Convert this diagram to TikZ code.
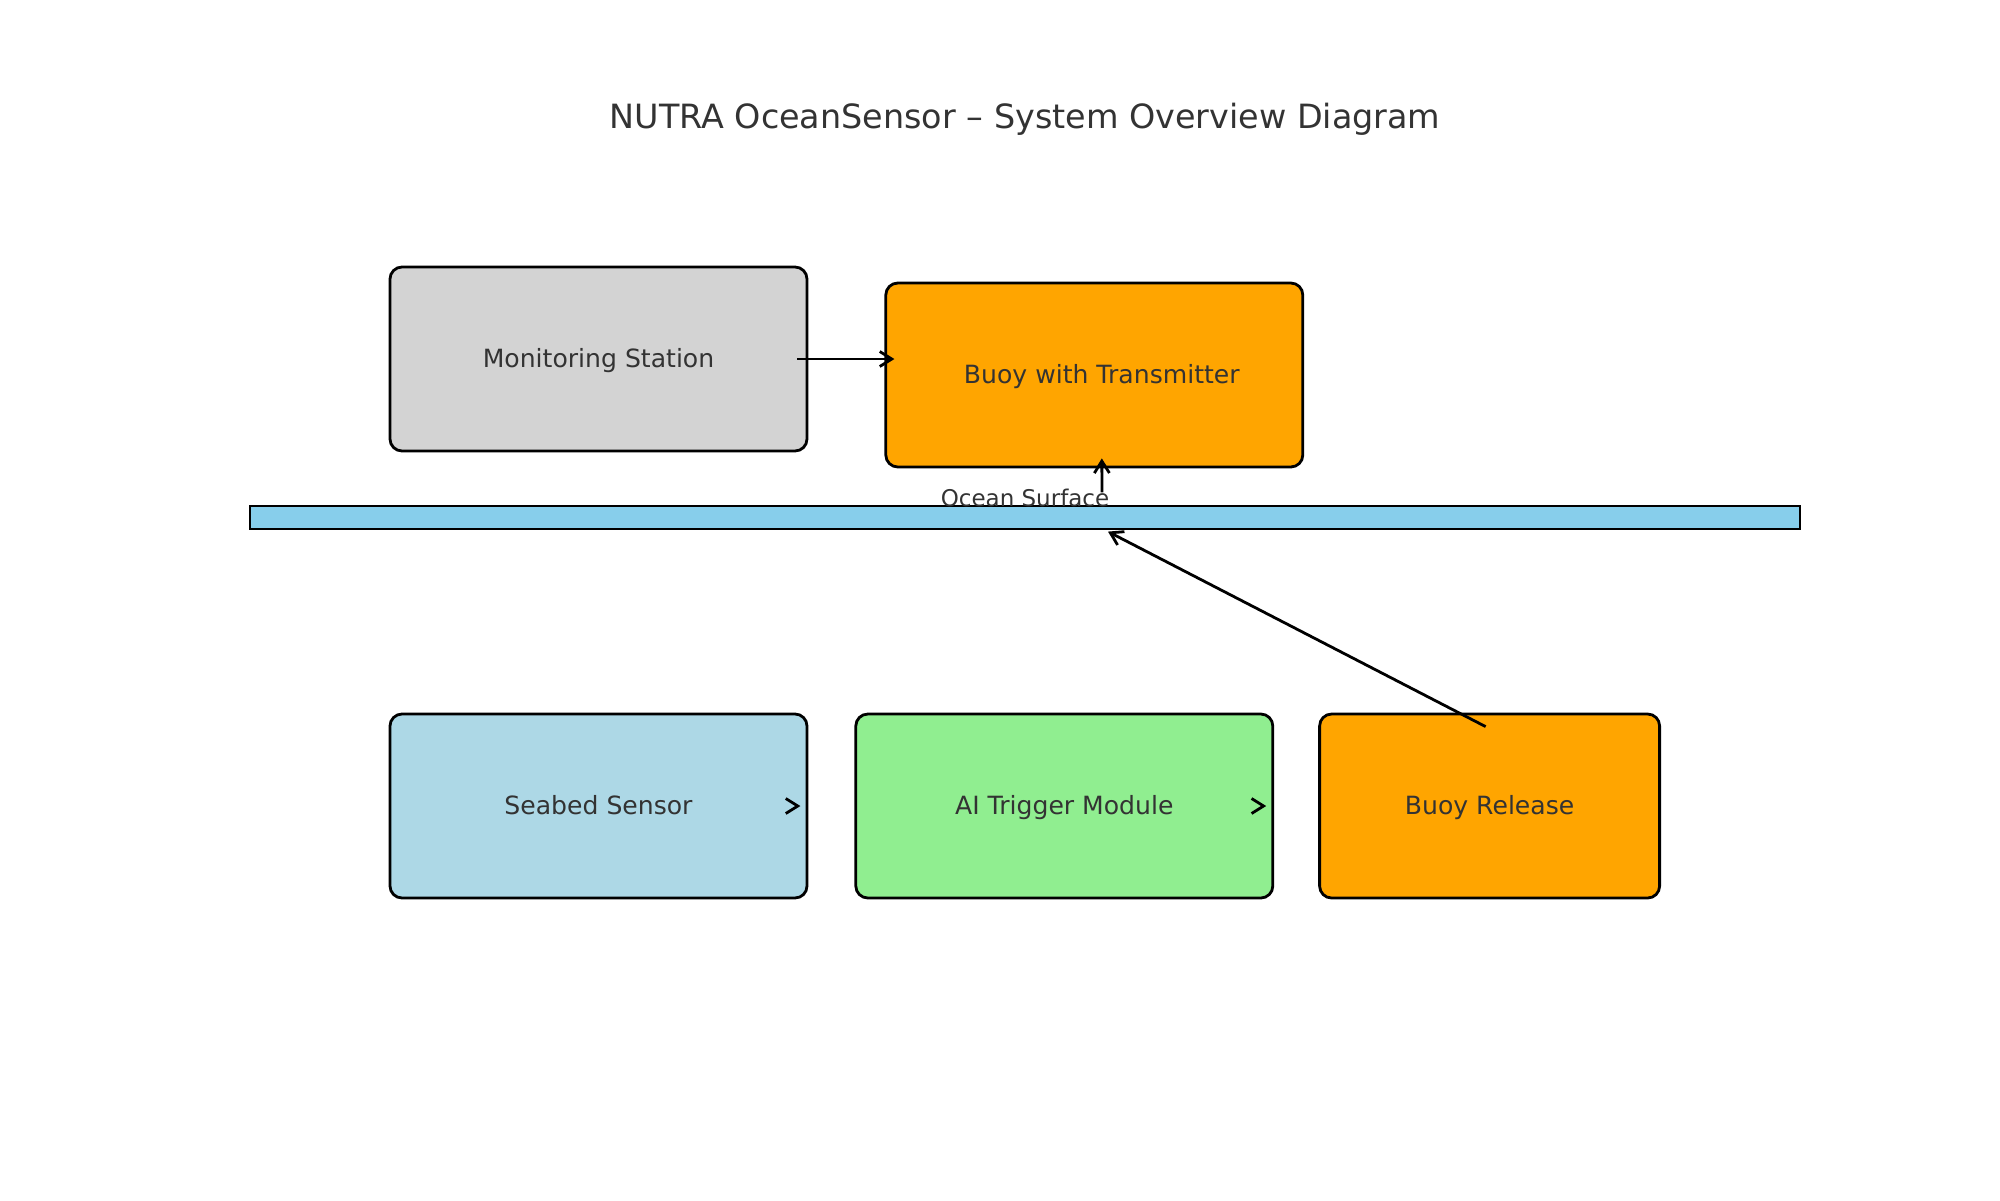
\documentclass[tikz,border=0pt]{standalone}
\usepackage{fontspec}
\setmainfont{DejaVu Sans}
\usetikzlibrary{arrows.meta, positioning}
\definecolor{stationgray}{HTML}{D3D3D3}
\definecolor{buoyorange}{HTML}{FFA500}
\definecolor{sensorblue}{HTML}{ADD8E6}
\definecolor{triggergreen}{HTML}{90EE90}
\definecolor{seablue}{HTML}{87CEEB}
\definecolor{textgray}{HTML}{333333}

\begin{document}
\begin{tikzpicture}[
        x=0.5pt, y=-0.5pt,
        font=\fontsize{12.55}{15}\selectfont, text=textgray,
        >={Straight Barb[length=6pt,width=7.5pt]},
        base/.style={draw, line width=1.4pt, rounded corners=6pt, align=center, minimum width=208.5pt, minimum height=92pt, inner sep=0pt, text height=1.05em, text depth=0.17em},
        water/.style={draw, line width=0.6pt, fill=seablue, inner sep=0pt, minimum width=775pt, minimum height=11.5pt},
        arrow/.style={->, line width=1.4pt, color=black},
    ]
    \useasboundingbox (0,0) rectangle (2000,1200);

    % Title
    \node[font=\fontsize{16.7}{20}\selectfont, anchor=base] (title) at (1025,128) {NUTRA OceanSensor -- System Overview Diagram};

    % Nodes above the surface
    \node[base, fill=stationgray] (station) at (598.5,359) {Monitoring Station};
    \node[base, fill=buoyorange, right=38pt of station, yshift=-8pt] (buoy) {\hspace*{7.5pt}Buoy with Transmitter};

    % Ocean surface
    \node[water] (surface) at (1025,517.5) {};
    \node[font=\fontsize{11.5}{14}\selectfont, anchor=base] (surflabel) at ([yshift=-0.6pt]surface.north) {Ocean Surface};

    % Nodes on the seabed
    \node[base, fill=sensorblue] (seabed) at (598.5,806) {Seabed Sensor};
    \node[base, fill=triggergreen, right=23pt of seabed] (trigger) {AI Trigger Module};
    \node[base, fill=buoyorange, minimum width=170pt, right=22pt of trigger] (release) {Buoy Release};

    % Arrows
    \draw[arrow] ([xshift=-5.5pt]station.east) -- ([xshift=5pt,yshift=8pt]buoy.west);
    \draw[arrow] ([xshift=38.5pt,yshift=6.5pt]surface.north) -- ([xshift=3.75pt,yshift=5pt]buoy.south);
    \draw[arrow] ([xshift=-2pt,yshift=-7pt]release.north) -- ([xshift=41.5pt,yshift=-1pt]surface.south);
    \draw[arrow] ([xshift=-6pt]seabed.east) -- ([xshift=-4pt]seabed.east);
    \draw[arrow] ([xshift=-6pt]trigger.east) -- ([xshift=-4pt]trigger.east);

\end{tikzpicture}
\end{document}
